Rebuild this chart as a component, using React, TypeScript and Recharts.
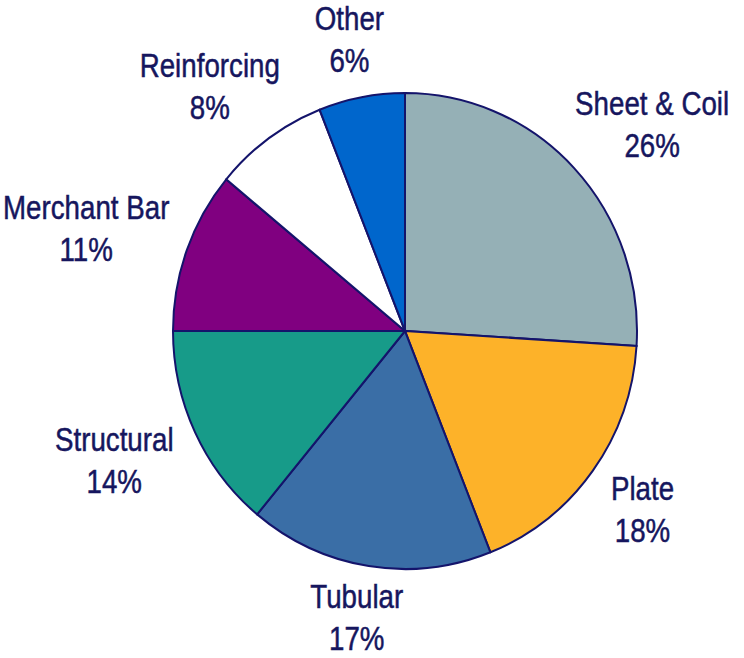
import React from "react";
import { PieChart, Pie, Cell, Sector } from "recharts";

const categories = ["Sheet & Coil", "Plate", "Tubular", "Structural", "Merchant Bar", "Reinforcing", "Other"];
const shares = [26, 18, 17, 14, 11, 8, 6];
const colors = ["#95B0B6", "#FDB229", "#3A6EA6", "#179B89", "#800080", "#FFFFFF", "#0066CC"];

const data = categories.map((name, i) => ({ name, value: shares[i] }));

const W = 744;
const H = 658;
const FONT = "'Liberation Sans', Arial, sans-serif";
const FONT_SIZE = 33;
const NARROW = 0.84;
const LINE = 42;
const TEXT_COLOR = "#16165E";
const STROKE = "#14146B";
const RX = 232;
const RY = 238;
const SY = RY / RX;
const RAD = Math.PI / 180;

let ctx: CanvasRenderingContext2D | null = null;
function measure(s: string): number {
  if (!ctx) {
    const c = document.createElement("canvas");
    ctx = c.getContext("2d");
  }
  if (!ctx) return s.length * FONT_SIZE * 0.5 * NARROW;
  ctx.font = `${FONT_SIZE}px ${FONT}`;
  return ctx.measureText(s).width * NARROW;
}

const renderShape = (props: any) => {
  const { cx, cy } = props;
  return (
    <Sector
      {...props}
      transform={`translate(${cx} ${cy}) scale(1 ${SY}) translate(${-cx} ${-cy})`}
    />
  );
};

const renderLabel = (props: any) => {
  const { cx, cy, midAngle, outerRadius, name, value } = props;
  const pct = `${value}%`;
  const w = Math.max(measure(name), measure(pct));
  const h = 70;
  const d = 30;
  const c = Math.cos(midAngle * RAD);
  const s = Math.sin(midAngle * RAD);
  const ax = cx + (outerRadius + d) * c;
  const ay = cy - (outerRadius * SY + d) * s;
  let bx = ax + (c * w) / 2;
  let by = ay - (s * h) / 2;
  // keep the label box inside the picture
  bx = Math.min(Math.max(bx, w / 2 + 3), W - w / 2 - 1);
  by = Math.min(Math.max(by, 39), H - 41);
  return (
    <text
      x={0}
      y={0}
      transform={`translate(${bx} ${by}) scale(${NARROW} 1)`}
      textAnchor="middle"
      fill={TEXT_COLOR}
      stroke={TEXT_COLOR}
      strokeWidth={0.5}
      fontFamily={FONT}
      fontSize={FONT_SIZE}
    >
      <tspan x={0} y={-9}>{name}</tspan>
      <tspan x={0} y={-9 + LINE}>{pct}</tspan>
    </text>
  );
};

export default function App() {
  return (
    <div style={{ position: "absolute", left: 0, top: 0, width: W, height: H, background: "#fff" }}>
      <PieChart width={W} height={H} margin={{ top: 0, right: 0, bottom: 0, left: 0 }}>
        <Pie
          data={data}
          dataKey="value"
          nameKey="name"
          cx={405}
          cy={331}
          outerRadius={RX}
          startAngle={90}
          endAngle={-270}
          stroke={STROKE}
          strokeWidth={2}
          isAnimationActive={false}
          shape={renderShape}
          label={renderLabel}
          labelLine={false}
        >
          {data.map((d, i) => (
            <Cell key={d.name} fill={colors[i]} stroke={STROKE} strokeWidth={2} />
          ))}
        </Pie>
      </PieChart>
    </div>
  );
}
